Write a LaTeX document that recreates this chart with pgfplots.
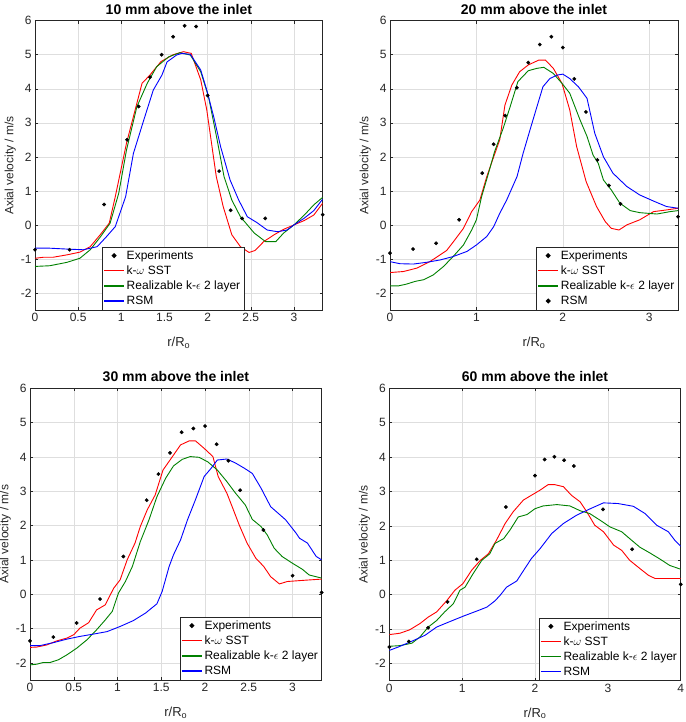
\documentclass[border=0pt]{standalone}
\usepackage{fontspec}
\setmainfont{Liberation Sans}
\usepackage{pgfplots}
\pgfplotsset{compat=1.18}

\definecolor{mgreen}{rgb}{0,0.5,0}
\definecolor{axgray}{rgb}{0.15,0.15,0.15}

\tikzset{
  exp/.style={only marks, mark=*, mark size=1.7pt, black},
  sst/.style={red, line width=0.9pt},
  rke/.style={mgreen, line width=0.9pt},
  rsm/.style={blue, line width=0.9pt},
}

\pgfplotsset{
  legend image code/.code={\draw[mark repeat=2,mark phase=2,#1,line width=1.3pt] plot coordinates {(0pt,0.3pt) (10pt,0.3pt) (20pt,0.3pt)};},
  panel/.style={
    scale only axis,
    anchor=north west,
    xmin=0, ymin=-2.5, ymax=6,
    ytick={-2,-1,0,1,2,3,4,5,6},
    grid=major,
    major grid style={color=black!13, line width=0.5pt},
    axis line style={axgray, line width=0.5pt},
    tick style={axgray, line width=0.5pt},
    major tick length=3pt,
    tick label style={font=\fontsize{12}{13}\selectfont, text=axgray},
    /pgf/number format/assume math mode=true,
    xlabel style={font=\fontsize{13}{14}\selectfont, text=axgray, yshift=-8pt},
    ylabel style={font=\fontsize{12}{14}\selectfont, text=axgray, yshift=-2pt},
    title style={font=\fontsize{14}{15}\bfseries, text=black, yshift=-3pt},
    xlabel={r/R\textsubscript{o}},
    ylabel={Axial velocity / m/s},
    legend style={draw=axgray, fill=white, font=\fontsize{12}{13}\selectfont,
      inner sep=1.5pt, row sep=1pt, cells={anchor=west}},
    legend cell align=left,
  },
}

\begin{document}
\begin{tikzpicture}
\useasboundingbox (0,0) rectangle (685pt,-722pt);

% ---- 10 mm
\begin{axis}[panel, at={(35pt,-20.7pt)}, width=287.7pt, height=289.3pt,
  xmax=3.333, xtick={0,0.5,1,1.5,2,2.5,3},
  title={10 mm above the inlet},
  legend style={at={(0.232,0)}, anchor=south west}]
\addplot[exp] coordinates {(0,-0.73) (0.4,-0.73) (0.8,0.6) (1.067,2.5) (1.2,3.48) (1.333,4.34) (1.467,5.0) (1.6,5.53) (1.733,5.85) (1.867,5.83) (2.0,3.8) (2.133,1.58) (2.267,0.43) (2.4,0.19) (2.667,0.19) (3.333,0.3)};
\addlegendentry{Experiments}
\addplot[sst] coordinates {(0,-0.98) (0.1,-0.95) (0.21,-0.95) (0.37,-0.88) (0.52,-0.8) (0.64,-0.64) (0.755,-0.29) (0.86,0.05) (0.93,0.83) (1.06,2.4) (1.24,4.16) (1.33,4.4) (1.46,4.8) (1.6,5.0) (1.72,5.09) (1.81,5.04) (1.92,4.26) (1.99,3.38) (2.1,1.42) (2.18,0.54) (2.28,-0.29) (2.38,-0.64) (2.48,-0.81) (2.55,-0.75) (2.65,-0.49) (2.77,-0.29) (2.88,-0.13) (3.0,0) (3.12,0.13) (3.23,0.29) (3.333,0.64)};
\addlegendentry{k-$\omega$ SST}
\addplot[rke] coordinates {(0,-1.22) (0.17,-1.2) (0.37,-1.1) (0.52,-0.98) (0.64,-0.73) (0.755,-0.36) (0.87,0.05) (0.97,0.93) (1.06,2.2) (1.18,3.47) (1.3,4.16) (1.41,4.65) (1.55,4.94) (1.68,5.06) (1.8,4.99) (1.92,4.5) (2.01,3.77) (2.11,2.5) (2.19,1.42) (2.28,0.73) (2.38,0.24) (2.54,-0.24) (2.67,-0.49) (2.79,-0.49) (2.88,-0.24) (3.0,0) (3.12,0.29) (3.23,0.59) (3.333,0.81)};
\addlegendentry{Realizable k-$\epsilon$ 2 layer}
\addplot[rsm] coordinates {(0,-0.68) (0.14,-0.68) (0.37,-0.71) (0.56,-0.73) (0.72,-0.64) (0.83,-0.34) (0.93,-0.05) (1.05,0.83) (1.14,2.1) (1.26,3.08) (1.37,3.96) (1.47,4.4) (1.53,4.79) (1.64,4.99) (1.7,5.04) (1.8,5.01) (1.92,4.55) (1.99,3.96) (2.07,3.18) (2.15,2.3) (2.26,1.32) (2.36,0.73) (2.46,0.24) (2.57,0.07) (2.69,-0.15) (2.81,-0.2) (2.92,-0.15) (3.0,0) (3.12,0.2) (3.23,0.42) (3.333,0.76)};
\addlegendentry{RSM}
\end{axis}

% ---- 20 mm
\begin{axis}[panel, at={(390pt,-20.7pt)}, width=288pt, height=289.3pt,
  xmax=3.333, xtick={0,1,2,3},
  title={20 mm above the inlet},
  legend style={at={(1,0)}, anchor=south east}]
\addplot[exp] coordinates {(0,-0.83) (0.267,-0.71) (0.533,-0.54) (0.8,0.15) (1.067,1.52) (1.2,2.37) (1.333,3.21) (1.467,4.03) (1.6,4.77) (1.733,5.3) (1.867,5.53) (2.0,5.21) (2.133,4.29) (2.267,3.32) (2.4,1.91) (2.533,1.16) (2.667,0.62) (3.333,0.24)};
\addlegendentry{Experiments}
\addplot[sst] coordinates {(0,-1.4) (0.154,-1.37) (0.31,-1.27) (0.46,-1.08) (0.58,-0.88) (0.656,-0.75) (0.75,-0.44) (0.85,-0.1) (0.945,0.39) (1.04,0.73) (1.12,1.42) (1.2,2.0) (1.27,2.5) (1.33,3.52) (1.41,4.11) (1.5,4.5) (1.6,4.7) (1.72,4.84) (1.8,4.84) (1.89,4.6) (1.99,4.16) (2.08,3.38) (2.16,2.3) (2.27,1.27) (2.39,0.54) (2.49,0.1) (2.56,-0.1) (2.65,-0.15) (2.74,0) (2.89,0.15) (3.05,0.39) (3.2,0.44) (3.333,0.49)};
\addlegendentry{k-$\omega$ SST}
\addplot[rke] coordinates {(0,-1.79) (0.1,-1.79) (0.19,-1.74) (0.29,-1.66) (0.39,-1.61) (0.5,-1.47) (0.62,-1.22) (0.73,-0.93) (0.85,-0.59) (0.945,-0.15) (1.0,0.15) (1.06,0.83) (1.14,1.52) (1.21,2.15) (1.31,2.84) (1.39,3.47) (1.48,4.21) (1.6,4.53) (1.7,4.6) (1.78,4.63) (1.89,4.45) (1.99,4.16) (2.08,3.87) (2.2,3.08) (2.28,2.6) (2.35,2.05) (2.41,1.81) (2.47,1.32) (2.56,1.03) (2.66,0.64) (2.78,0.42) (2.89,0.36) (3.09,0.32) (3.24,0.39) (3.333,0.42)};
\addlegendentry{Realizable k-$\epsilon$ 2 layer}
\addlegendimage{exp}
\addlegendentry{RSM}
\addplot[rsm, forget plot] coordinates {(0,-1.08) (0.116,-1.14) (0.27,-1.15) (0.42,-1.1) (0.58,-1.03) (0.73,-0.93) (0.89,-0.78) (1.0,-0.59) (1.12,-0.34) (1.2,-0.05) (1.27,0.34) (1.35,0.73) (1.47,1.42) (1.54,2.1) (1.62,2.79) (1.7,3.47) (1.77,4.06) (1.85,4.3) (1.93,4.4) (2.0,4.43) (2.08,4.3) (2.18,4.06) (2.28,3.72) (2.37,2.69) (2.47,2.0) (2.58,1.52) (2.74,1.13) (2.89,0.88) (3.05,0.7) (3.2,0.54) (3.333,0.49)};
\end{axis}

% ---- 30 mm
\begin{axis}[panel, at={(30pt,-388.3pt)}, width=291.7pt, height=291.7pt,
  xmax=3.333, xtick={0,0.5,1,1.5,2,2.5,3},
  title={30 mm above the inlet},
  legend style={at={(1,0)}, anchor=south east}]
\addplot[exp] coordinates {(0,-1.36) (0.267,-1.25) (0.533,-0.84) (0.8,-0.14) (1.067,1.1) (1.333,2.74) (1.467,3.5) (1.6,4.12) (1.733,4.72) (1.867,4.83) (2.0,4.9) (2.133,4.37) (2.267,3.89) (2.4,3.03) (2.667,1.87) (3.0,0.54) (3.333,0.05)};
\addlegendentry{Experiments}
\addplot[sst] coordinates {(0,-1.55) (0.076,-1.54) (0.19,-1.48) (0.306,-1.36) (0.42,-1.28) (0.5,-1.18) (0.57,-0.99) (0.67,-0.83) (0.76,-0.46) (0.86,-0.31) (0.955,0.17) (1.03,0.42) (1.11,1.0) (1.2,1.49) (1.26,1.97) (1.34,2.46) (1.43,2.89) (1.52,3.62) (1.6,3.91) (1.72,4.35) (1.82,4.47) (1.89,4.47) (1.99,4.25) (2.09,4.01) (2.15,3.43) (2.25,2.94) (2.31,2.55) (2.39,2.02) (2.48,1.49) (2.58,1.05) (2.67,0.81) (2.75,0.51) (2.85,0.3) (2.94,0.37) (3.1,0.4) (3.333,0.44)};
\addlegendentry{k-$\omega$ SST}
\addplot[rke] coordinates {(0,-2.06) (0.076,-2.04) (0.15,-1.99) (0.23,-1.99) (0.325,-1.91) (0.42,-1.77) (0.535,-1.57) (0.65,-1.33) (0.76,-1.04) (0.86,-0.75) (0.94,-0.5) (1.01,0.03) (1.09,0.37) (1.17,0.81) (1.26,1.53) (1.36,2.17) (1.45,2.84) (1.55,3.38) (1.64,3.74) (1.74,3.93) (1.83,4.01) (1.93,3.99) (2.03,3.86) (2.14,3.62) (2.25,3.28) (2.35,2.94) (2.46,2.6) (2.54,2.18) (2.64,1.97) (2.71,1.73) (2.79,1.34) (2.88,1.1) (3.0,0.9) (3.11,0.73) (3.19,0.56) (3.333,0.47)};
\addlegendentry{Realizable k-$\epsilon$ 2 layer}
\addplot[rsm] coordinates {(0,-1.5) (0.11,-1.5) (0.27,-1.41) (0.42,-1.31) (0.57,-1.23) (0.73,-1.16) (0.88,-1.09) (1.03,-0.94) (1.18,-0.77) (1.32,-0.55) (1.45,-0.28) (1.51,0.08) (1.59,0.81) (1.64,1.15) (1.72,1.58) (1.8,2.17) (1.89,2.75) (1.99,3.43) (2.07,3.67) (2.14,3.91) (2.25,3.94) (2.35,3.82) (2.45,3.67) (2.54,3.52) (2.64,3.09) (2.75,2.55) (2.92,2.17) (3.04,1.78) (3.08,1.63) (3.17,1.49) (3.27,1.1) (3.333,1.0)};
\addlegendentry{RSM}
\end{axis}

% ---- 60 mm
\begin{axis}[panel, at={(389.3pt,-388.3pt)}, width=291.4pt, height=292.4pt,
  xmax=4, xtick={0,1,2,3,4},
  title={60 mm above the inlet},
  legend style={at={(1,0)}, anchor=south east}]
\addplot[exp] coordinates {(0,-1.52) (0.267,-1.36) (0.533,-0.96) (0.8,-0.21) (1.2,1.03) (1.6,2.55) (2.0,3.46) (2.133,3.93) (2.267,4.01) (2.4,3.91) (2.533,3.74) (2.933,2.48) (3.333,1.32) (4.0,0.3)};
\addlegendentry{Experiments}
\addplot[sst] coordinates {(0,-1.16) (0.146,-1.12) (0.28,-1.02) (0.42,-0.84) (0.535,-0.65) (0.65,-0.5) (0.79,-0.17) (0.9,0.13) (1.01,0.32) (1.13,0.71) (1.25,1.0) (1.36,1.19) (1.47,1.58) (1.59,2.07) (1.7,2.41) (1.84,2.75) (1.95,2.89) (2.07,3.04) (2.18,3.2) (2.27,3.2) (2.39,3.14) (2.5,2.89) (2.62,2.7) (2.71,2.41) (2.82,2.02) (2.94,1.83) (3.08,1.44) (3.19,1.29) (3.3,1.0) (3.44,0.76) (3.56,0.56) (3.65,0.47) (3.81,0.47) (4.0,0.47)};
\addlegendentry{k-$\omega$ SST}
\addplot[rke] coordinates {(0,-1.5) (0.146,-1.48) (0.31,-1.41) (0.42,-1.23) (0.535,-0.94) (0.65,-0.75) (0.76,-0.5) (0.88,-0.26) (0.97,0.13) (1.04,0.22) (1.15,0.61) (1.27,1.0) (1.38,1.19) (1.45,1.49) (1.57,1.63) (1.66,1.89) (1.77,2.26) (1.89,2.33) (2.0,2.5) (2.11,2.58) (2.3,2.62) (2.48,2.58) (2.62,2.44) (2.75,2.36) (2.89,2.17) (3.03,1.97) (3.19,1.83) (3.3,1.63) (3.44,1.38) (3.58,1.21) (3.72,1.03) (3.85,0.85) (4.0,0.74)};
\addlegendentry{Realizable k-$\epsilon$ 2 layer}
\addplot[rsm] coordinates {(0,-1.62) (0.124,-1.52) (0.28,-1.38) (0.49,-1.18) (0.65,-0.94) (0.81,-0.8) (1.02,-0.62) (1.22,-0.46) (1.34,-0.36) (1.45,-0.18) (1.52,-0.02) (1.61,0.22) (1.75,0.4) (1.86,0.76) (1.95,1.05) (2.07,1.34) (2.23,1.78) (2.39,2.07) (2.57,2.31) (2.76,2.5) (2.94,2.67) (3.14,2.65) (3.35,2.57) (3.51,2.36) (3.67,2.02) (3.83,1.83) (3.92,1.58) (4.0,1.41)};
\addlegendentry{RSM}
\end{axis}
\end{tikzpicture}
\end{document}
